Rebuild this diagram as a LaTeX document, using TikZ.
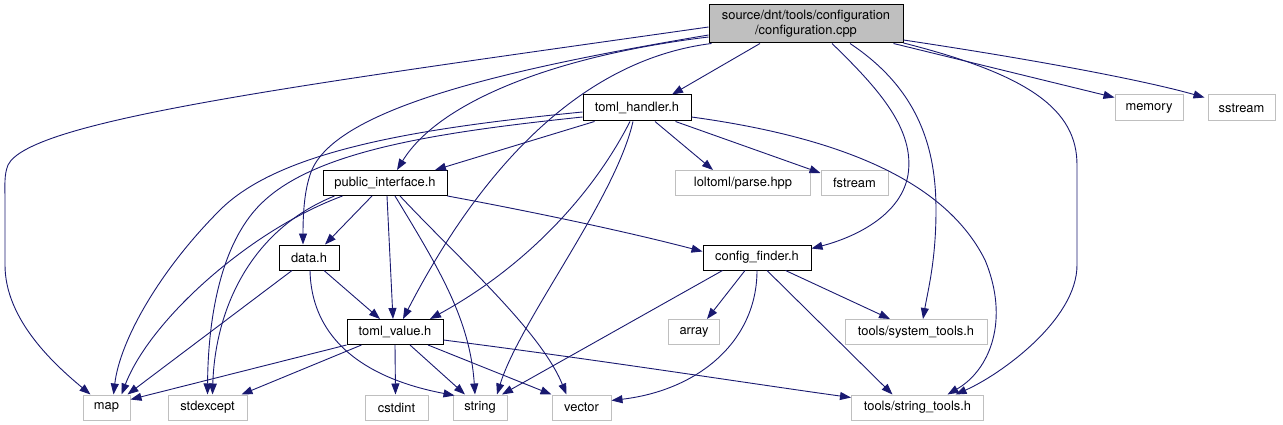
\documentclass[tikz,border=0pt]{standalone}
\usepackage{fontspec}
\setmainfont{TeX Gyre Heros}
\usetikzlibrary{arrows.meta,calc}
\definecolor{MidnightBlue}{HTML}{191970}
\definecolor{LeafGrey}{HTML}{BFBFBF}
\definecolor{MainGrey}{HTML}{BFBFBF}

\begin{document}
\begin{tikzpicture}[x=1pt, y=-1pt,
    box/.style={line width=1pt, inner sep=0pt, minimum height=25pt,
                font=\fontsize{12.9}{15}\selectfont},
    header/.style={box, draw=black, fill=MainGrey, align=center},
    filebox/.style={box, draw=black},
    extbox/.style={box, draw=LeafGrey},
    incl/.style={draw=MidnightBlue, line width=0.9pt,
                 -{Triangle[length=11pt,width=8pt]}}]
  \useasboundingbox (0,0) rectangle (1283,425);

  % files of the project
  \node[header, minimum width=194pt, minimum height=38pt] (main) at (806,24)
    {source/dnt/tools/configuration\\/configuration.cpp};
  \node[filebox, minimum width=108pt, minimum height=26pt] (handler) at (637,108) {toml\_handler.h};
  \node[filebox, minimum width=124pt] (iface) at (385,183) {public\_interface.h};
  \node[filebox, minimum width=60pt] (data) at (309,257.5) {data.h};
  \node[filebox, minimum width=108pt] (finder) at (757,257.5) {config\_finder.h};
  \node[filebox, minimum width=96pt] (value) at (395,332) {toml\_value.h};

  % headers that are not documented
  \node[extbox, minimum width=135pt] (parse) at (743,183) {loltoml/parse.hpp};
  \node[extbox, minimum width=67pt] (fstream) at (854.5,183) {fstream};
  \node[extbox, minimum width=68pt, minimum height=26pt] (memory) at (1149,108) {memory};
  \node[extbox, minimum width=67pt, minimum height=26pt] (sstream) at (1241.5,108) {sstream};
  \node[extbox, minimum width=51pt] (array) at (694,332) {array};
  \node[extbox, minimum width=142pt] (systools) at (916,332) {tools/system\_tools.h};
  \node[extbox, minimum width=47pt] (map) at (106.5,407.5) {map};
  \node[extbox, minimum width=79pt] (stdexcept) at (207.5,407.5) {stdexcept};
  \node[extbox, minimum width=63pt] (cstdint) at (396.5,407.5) {cstdint};
  \node[extbox, minimum width=54pt] (string) at (480,407.5) {string};
  \node[extbox, minimum width=59pt] (vector) at (581.5,407.5) {vector};
  \node[extbox, minimum width=132pt] (strtools) at (917.5,407.5) {tools/string\_tools.h};

  % configuration.cpp
  \draw[incl] ($(main.west)+(0,3)$) .. controls (300,85) and (30,120) .. (8,165)
    .. controls (4,175) and (5,185) .. (5,200) -- (5,265)
    .. controls (5,320) and (55,365) .. ($(map.north west)+(8,0)$);
  \draw[incl] ($(main.south)+(-46,0)$) -- ($(handler.north)+(35,0)$);
  \draw[incl] ($(main.west)+(0,13)$) .. controls (560,55) and (440,100) .. ($(iface.north)+(12,0)$);
  \draw[incl] ($(main.west)+(0,11)$) .. controls (500,70) and (330,110) .. (310,175)
    .. controls (305,190) and (303,210) .. ($(data.north)+(-6,0)$);
  \draw[incl] ($(main.south west)+(3,0)$) .. controls (580,60) and (480,170) .. ($(value.north)+(8,0)$);
  \draw[incl] ($(main.south)+(26,0)$) .. controls (880,90) and (915,130) .. (908,175)
    .. controls (900,220) and (845,240) .. ($(finder.north east)+(0,4)$);
  \draw[incl] ($(main.south)+(44,0)$) .. controls (920,90) and (936,150) .. (936,210)
    .. controls (936,260) and (928,290) .. ($(systools.north)+(7,0)$);
  \draw[incl] ($(main.east)+(0,19)$) .. controls (1030,75) and (1077,110) .. (1077,165) -- (1077,265)
    .. controls (1077,320) and (1000,375) .. ($(strtools.north)+(38,0)$);
  \draw[incl] ($(main.south east)+(-10,0)$) -- ($(memory.north west)+(0,3)$);
  \draw[incl] ($(main.east)+(0,16)$) .. controls (1050,62) and (1150,82) .. ($(sstream.north west)+(-3,3)$);

  % toml_handler.h
  \draw[incl] ($(handler.south west)+(12,0)$) -- ($(iface.north)+(50,0)$);
  \draw[incl] ($(handler.west)+(0,4)$) .. controls (420,128) and (280,150) .. (220,210)
    .. controls (160,270) and (120,340) .. ($(map.north)+(7,0)$);
  \draw[incl] ($(handler.west)+(0,9)$) .. controls (440,132) and (320,150) .. (265,200)
    .. controls (220,240) and (208,320) .. (stdexcept.north);
  \draw[incl] ($(handler.south)+(-7,0)$) .. controls (590,200) and (520,270) .. ($(value.north)+(35,0)$);
  \draw[incl] ($(handler.south)+(-4,0)$) .. controls (615,200) and (520,320) .. ($(string.north)+(17,0)$);
  \draw[incl] ($(handler.south)+(18,0)$) -- ($(parse.north)+(-30,0)$);
  \draw[incl] ($(handler.south east)+(-16,0)$) -- ($(fstream.north west)+(0,3)$);
  \draw[incl] ($(handler.east)+(0,9)$) .. controls (860,140) and (950,190) .. (985,260)
    .. controls (1010,320) and (990,370) .. ($(strtools.north)+(30,0)$);

  % public_interface.h
  \draw[incl] ($(iface.south)+(-13,0)$) -- ($(data.north)+(16,0)$);
  \draw[incl] ($(iface.south)+(2,0)$) -- ($(value.north)+(-2,0)$);
  \draw[incl] ($(iface.south west)+(20,0)$) .. controls (250,230) and (150,320) .. ($(map.north)+(15,0)$);
  \draw[incl] ($(iface.south west)+(12,0)$) .. controls (250,230) and (215,310) .. ($(stdexcept.north)+(5,0)$);
  \draw[incl] ($(iface.south)+(10,0)$) .. controls (440,270) and (470,320) .. ($(string.north)+(-5,0)$);
  \draw[incl] ($(iface.south)+(15,0)$) .. controls (460,260) and (540,330) .. ($(vector.north)+(-15,0)$);
  \draw[incl] (iface.south east) .. controls (550,215) and (640,235) .. ($(finder.west)+(0,-6)$);

  % data.h
  \draw[incl] ($(data.south)+(15,0)$) -- ($(value.north)+(-15,0)$);
  \draw[incl] ($(data.south)+(-17,0)$) -- ($(map.north east)+(-3,0)$);
  \draw[incl] ($(data.south)+(1,0)$) .. controls (312,360) and (400,385) .. ($(string.north west)+(2,1)$);

  % config_finder.h
  \draw[incl] ($(finder.south west)+(20,0)$) -- ($(string.north)+(22,0)$);
  \draw[incl] ($(finder.south)+(-12,0)$) -- ($(array.north)+(13,0)$);
  \draw[incl] (finder.south) .. controls (757,340) and (700,390) .. ($(vector.east)+(0,-7)$);
  \draw[incl] ($(finder.south)+(10,0)$) -- ($(strtools.north)+(-25,0)$);
  \draw[incl] ($(finder.south east)+(-26,0)$) -- ($(systools.north)+(-26,0)$);

  % toml_value.h
  \draw[incl] (value.south west) -- ($(map.north east)+(0,5)$);
  \draw[incl] ($(value.south west)+(15,0)$) -- ($(stdexcept.north east)+(-6,0)$);
  \draw[incl] (value.south) -- ($(cstdint.north)+(-1,0)$);
  \draw[incl] ($(value.south)+(15,0)$) -- ($(string.north)+(-15,0)$);
  \draw[incl] ($(value.south)+(33,0)$) -- ($(vector.north)+(-30,0)$);
  \draw[incl] ($(value.east)+(0,8)$) .. controls (600,360) and (760,385) .. ($(strtools.west)+(0,-10)$);
\end{tikzpicture}
\end{document}
